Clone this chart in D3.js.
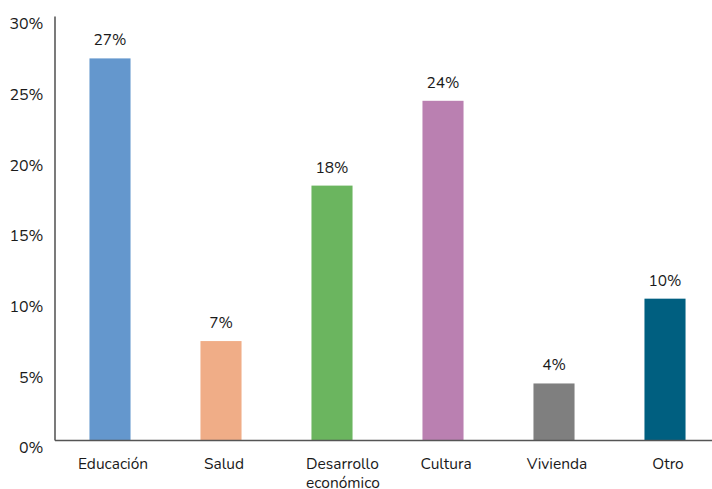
<!DOCTYPE html>
<html><head><meta charset="utf-8">
<script src="https://cdn.jsdelivr.net/npm/d3@7"></script>
<style>body{margin:0;background:#fff}text{font-family:Nunito,Lato,"Open Sans",sans-serif;fill:#1a1a1a}</style>
</head><body><svg id="c" width="712" height="489"></svg>
<script>
const categories = [["Educación"],["Salud"],["Desarrollo","económico"],["Cultura"],["Vivienda"],["Otro"]];
const values = [27, 7, 18, 24, 4, 10];
const colors = ["#6497cd","#f0ad87","#6bb55f","#ba80b1","#7f7f7f","#005f80"];
const yTicks = [0,5,10,15,20,25,30];

const svg = d3.select("#c");
const x0 = 54.5, y0 = 440;
const x = d3.scaleBand().domain(d3.range(categories.length)).range([x0, x0 + 666]).paddingInner(0.63).paddingOuter(0.315);
const y = d3.scaleLinear().domain([0,30]).range([y0, 16]);

svg.selectAll("rect.bar").data(values).enter().append("rect")
  .attr("x",(d,i)=>x(i)).attr("width",x.bandwidth())
  .attr("y",d=>y(d)).attr("height",d=>y0-y(d))
  .attr("fill",(d,i)=>colors[i]);

svg.selectAll("text.val").data(values).enter().append("text")
  .attr("x",(d,i)=>x(i)+x.bandwidth()/2).attr("y",d=>y(d)-13)
  .attr("text-anchor","middle").attr("font-size",15.5).text(d=>d+"%");

const ya = svg.append("g").attr("transform",`translate(${x0},0)`)
  .call(d3.axisLeft(y).tickValues(yTicks).tickFormat(d=>d+"%").tickSize(0).tickPadding(11));
ya.select(".domain").attr("stroke","#333").attr("stroke-width",1.3);
ya.selectAll("text").attr("font-size",16).attr("dy","0.8em").style("fill","#1a1a1a").attr("font-family",null);

const xa = svg.append("g").attr("transform",`translate(0,${y0})`)
  .call(d3.axisBottom(x).tickSize(0).tickFormat(""));
xa.select(".domain").attr("stroke","#555").attr("stroke-width",1.3);
xa.selectAll(".tick").each(function(d){
  const multi = categories[d].length > 1;
  const t = d3.select(this).select("text").attr("font-size",15.5).attr("y",0).attr("dy",null)
    .style("fill","#1a1a1a").attr("font-family",null).attr("text-anchor", multi ? "start" : "middle");
  categories[d].forEach((s,k)=>t.append("tspan").attr("x", multi ? -26 : 3).attr("y",29+k*19).text(s));
});
</script></body></html>
